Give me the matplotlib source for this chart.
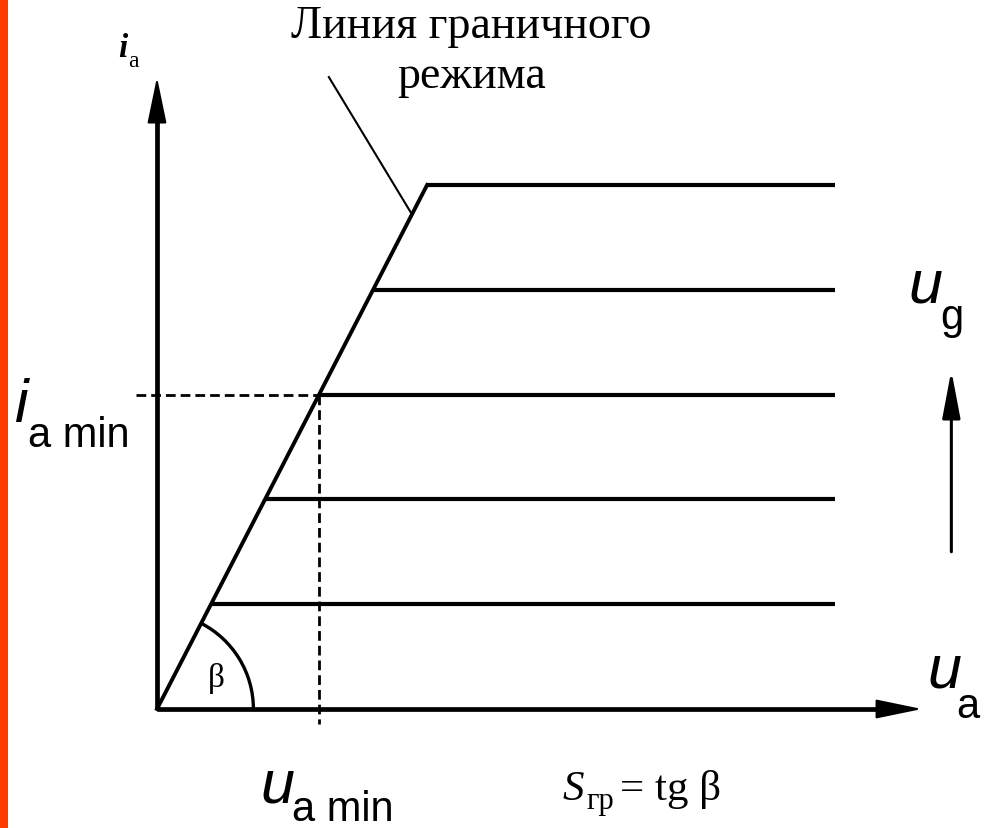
#!/usr/bin/env python3
"""
Anode characteristics of a tube in the boundary (critical) mode.
"""

import numpy as np
import matplotlib.pyplot as plt
from matplotlib.patches import Arc, Rectangle

# anode current levels for successive grid voltages (arbitrary units)
ia_levels = [1.0, 2.0, 3.0, 4.0, 5.0]
# slope of the boundary-mode line, S_gr = tg(beta)
S_gr = 1.94
# right end of the flat parts of the characteristics
ua_end = 6.47
# level used to mark i_a min / u_a min
ia_min = 3.0
# axis extents
ua_axis_max = 7.3
ia_axis_max = 6.03
# grid-voltage direction arrow (u position, i from, i to)
ug_arrow_u = 7.58
ug_arrow_i = [1.50, 3.23]

SERIF = 'Liberation Serif'
SANS = 'Liberation Sans'


def main():
    fig = plt.figure(figsize=(9.94, 8.29), dpi=100)
    ax = fig.add_axes([0, 0, 1, 1])
    ax.set_xlim(-1.498, 7.987)
    ax.set_ylim(-1.1355, 6.775)
    ax.axis('off')

    # orange strip on the left edge
    fig.patches.append(Rectangle((0, 0), 8 / 994, 1, transform=fig.transFigure,
                                 facecolor='#ff3a00', edgecolor='none'))

    # coordinate axes
    ax.plot([0, 0], [0, ia_axis_max - 0.3], color='black', lw=3.4, solid_capstyle='butt')
    ax.plot([0, ua_axis_max - 0.3], [0, 0], color='black', lw=3.4, solid_capstyle='butt')
    head = dict(arrowstyle='-|>,head_length=2.9,head_width=0.6', mutation_scale=10,
                color='black', lw=1.5, shrinkA=0, shrinkB=0)
    ax.annotate('', xy=(0, ia_axis_max), xytext=(0, ia_axis_max - 0.5), arrowprops=head)
    ax.annotate('', xy=(ua_axis_max, 0), xytext=(ua_axis_max - 0.5, 0), arrowprops=head)

    # boundary-mode line and the flat characteristics
    ia_top = max(ia_levels)
    ax.plot([0, ia_top / S_gr], [0, ia_top], color='black', lw=2.8)
    for ia in ia_levels:
        ax.plot([ia / S_gr, ua_end], [ia, ia], color='black', lw=3.0, solid_capstyle='butt')

    # dashed projections of the i_a min point
    ua_min = ia_min / S_gr
    ax.plot([-0.2, ua_min], [ia_min, ia_min], color='black', lw=2.0,
            dashes=(3.5, 1.8))
    ax.plot([ua_min, ua_min], [ia_min, -0.14], color='black', lw=2.0,
            dashes=(3.5, 1.8))

    # angle beta
    beta = np.degrees(np.arctan(S_gr))
    r = 0.92
    ax.add_patch(Arc((0, 0), 2 * r, 2 * r, theta1=0, theta2=beta,
                     color='black', lw=2.4))
    ax.text(0.563, 0.296, 'β', family=SERIF, fontsize=24, ha='center', va='center')

    # leader line to the caption
    p = 4.72
    ax.plot([1.64, p / S_gr], [6.03, p], color='black', lw=1.5)
    ax.text(3.0, 6.41, 'Линия граничного', family=SERIF, fontsize=33,
            ha='center', va='baseline')
    ax.text(3.0, 5.935, 'режима', family=SERIF, fontsize=33,
            ha='center', va='baseline')

    # grid-voltage arrow
    ax.annotate('', xy=(ug_arrow_u, ug_arrow_i[1]), xytext=(ug_arrow_u, ug_arrow_i[0]),
                arrowprops=dict(arrowstyle='-|>,head_length=2.9,head_width=0.55',
                                mutation_scale=10, color='black', lw=2.2,
                                shrinkA=0, shrinkB=0))

    # axis labels
    ax.text(-0.372, 6.23, 'i', family=SERIF, style='italic', fontweight='bold',
            fontsize=24, ha='left', va='baseline')
    ax.text(-0.277, 6.135, 'a', family=SERIF, fontsize=17, ha='left', va='baseline')

    big, small = 44, 30
    ax.text(-1.36, 2.748, 'i', family=SANS, style='italic', fontsize=big,
            ha='left', va='baseline')
    ax.text(-1.23, 2.51, 'a min', family=SANS, fontsize=small, ha='left', va='baseline')

    ax.text(7.17, 3.884, 'u', family=SANS, style='italic', fontsize=big,
            ha='left', va='baseline')
    ax.text(7.47, 3.64, 'g', family=SANS, fontsize=small, ha='left', va='baseline')

    ax.text(7.35, 0.21, 'u', family=SANS, style='italic', fontsize=big,
            ha='left', va='baseline')
    ax.text(7.63, -0.076, 'a', family=SANS, fontsize=small, ha='left', va='baseline')

    ax.text(0.983, -0.878, 'u', family=SANS, style='italic', fontsize=big,
            ha='left', va='baseline')
    ax.text(1.288, -1.06, 'a min', family=SANS, fontsize=small, ha='left', va='baseline')

    # S_gr = tg beta
    ax.text(3.865, -0.859, 'S', family=SERIF, style='italic', fontsize=31,
            ha='left', va='baseline')
    ax.text(4.10, -0.94, 'гр', family=SERIF, fontsize=22, ha='left', va='baseline')
    ax.text(4.42, -0.859, '= tg β', family=SERIF, fontsize=31, ha='left', va='baseline')

    fig.savefig('out.png', dpi=100)
    plt.close(fig)


if __name__ == '__main__':
    main()
